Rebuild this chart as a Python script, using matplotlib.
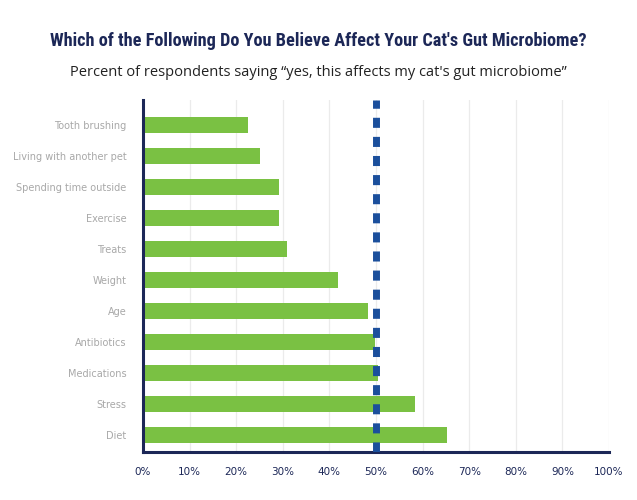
import numpy as np
import matplotlib.pyplot as plt

# categories from top to bottom (labels are blurred in the source image)
factors = ["Tooth brushing", "Living with another pet", "Spending time outside",
           "Exercise", "Treats", "Weight", "Age", "Antibiotics",
           "Medications", "Stress", "Diet"]
pct_yes = [22.6, 25.1, 29.1, 29.1, 31.0, 41.8, 48.3, 49.8, 50.4, 58.4, 65.2]
xticks = list(range(0, 101, 10))

navy = "#1c2757"
green = "#7ac143"
blue = "#1b4f9c"

fig = plt.figure(figsize=(6.37, 5.0), dpi=100)
ax = fig.add_axes([0.2245, 0.096, 0.7315, 0.704])

y = np.arange(len(factors))
ax.barh(y, pct_yes, height=0.52, color=green, zorder=2)
ax.set_ylim(len(factors) - 0.45, -0.8)
ax.set_yticks(y)
ax.set_yticklabels(factors, fontsize=7, color="#a8a8a8")
ax.tick_params(axis="y", length=0, pad=12)

ax.set_xlim(0, 100)
ax.set_xticks(xticks)
ax.set_xticklabels([f"{t}%" for t in xticks], fontsize=7.5, color=navy)
ax.tick_params(axis="x", length=0, pad=11)
ax.grid(axis="x", color="#ebebeb", linewidth=0.9, zorder=0)

for s in ["top", "right"]:
    ax.spines[s].set_visible(False)
for s in ["left", "bottom"]:
    ax.spines[s].set_color(navy)
    ax.spines[s].set_linewidth(2.2)

ax.axvline(50, color=blue, linewidth=5, dashes=(1.45, 1.3), zorder=3)

title = fig.text(0.5, 0.918, "Which of the Following Do You Believe Affect Your Cat's Gut Microbiome?",
                 ha="center", va="center", fontsize=13, fontweight="heavy",
                 family=["Roboto Condensed", "Roboto"], color=navy)
# shrink title to the width it has in the reference (~537 px)
r = fig.canvas.get_renderer()
w = title.get_window_extent(r).width
title.set_fontsize(13 * 537 / w)

fig.text(0.5, 0.855, "Percent of respondents saying \u201cyes, this affects my cat's gut microbiome\u201d",
         ha="center", va="center", fontsize=10.5, family="Open Sans", color="#222222")

fig.savefig("out.png", dpi=100)
